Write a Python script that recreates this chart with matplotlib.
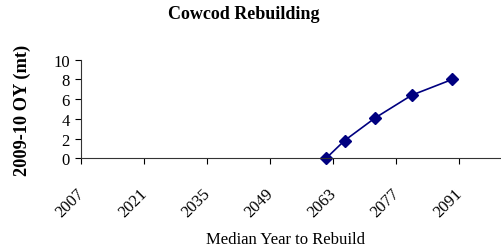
import matplotlib.pyplot as plt
from matplotlib.transforms import ScaledTranslation

plt.rcParams['font.family'] = ['Liberation Serif', 'DejaVu Serif']

# datos
anios = [2061.4, 2065.5, 2072.3, 2080.4, 2089.4]
oy = [0.0, 1.8, 4.1, 6.4, 8.0]
ticks_x = [2007, 2021, 2035, 2049, 2063, 2077, 2091]
ticks_y = [0, 2, 4, 6, 8, 10]

fig = plt.figure(figsize=(5.02, 2.53), dpi=100)
ax = fig.add_axes([81/502, 93.7/253, 419/502, 98.6/253])

ax.plot(anios, oy, color='#000080', marker='D', markersize=6, linewidth=1.2,
        clip_on=False)

ax.set_xlim(2007, 2100)
ax.set_ylim(0, 10)
ax.set_xticks(ticks_x)
ax.set_yticks(ticks_y)
ax.set_xticklabels([str(t) for t in ticks_x], rotation=45, ha='right',
                   va='top', rotation_mode='anchor', fontsize=12)
ax.tick_params(axis='y', labelsize=12, length=4, width=0.8, pad=4)
ax.tick_params(axis='x', length=4, width=0.8, pad=15)

# mover etiquetas del eje x un poco a la izquierda
desp = ScaledTranslation(-5/100, 0, fig.dpi_scale_trans)
for lab in ax.get_xticklabels():
    lab.set_transform(lab.get_transform() + desp)

for s in ['top', 'right']:
    ax.spines[s].set_visible(False)
for s in ['left', 'bottom']:
    ax.spines[s].set_linewidth(0.8)
    ax.spines[s].set_color('#333333')

fig.text(244/502, 1 - 19/253, 'Cowcod Rebuilding', ha='center', va='baseline',
         fontsize=13, fontweight='bold')
fig.text(22/502, 1 - 110/253, '2009-10 OY (mt)', ha='center', va='center',
         rotation=90, fontsize=13.2, fontweight='bold')
fig.text(286/502, 1 - 244/253, 'Median Year to Rebuild', ha='center',
         va='baseline', fontsize=12)

plt.savefig('out.png', dpi=100)
